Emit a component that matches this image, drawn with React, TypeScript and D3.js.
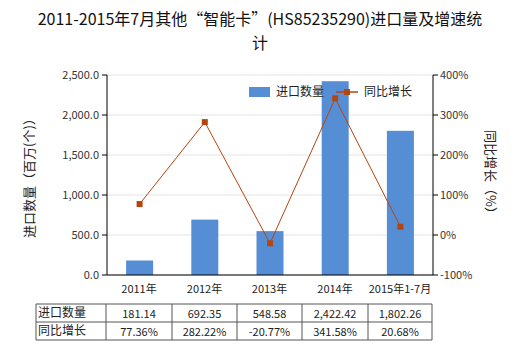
import React from "react";
import * as d3 from "d3";

const categories = ["2011年", "2012年", "2013年", "2014年", "2015年1-7月"];
const importQty = [181.14, 692.35, 548.58, 2422.42, 1802.26];
const growth = [77.36, 282.22, -20.77, 341.58, 20.68];
const qtyLabels = ["181.14", "692.35", "548.58", "2,422.42", "1,802.26"];
const growthLabels = ["77.36%", "282.22%", "-20.77%", "341.58%", "20.68%"];
const leftTicks = [0, 500, 1000, 1500, 2000, 2500];
const rightTicks = [-100, 0, 100, 200, 300, 400];

const W = 520, H = 350;
const L = 107, R = 433, T = 75, B = 275;
const BAR = "#558ED5";
const LINE = "#B5450F";
const FONT = "'Microsoft YaHei','Noto Sans CJK SC',sans-serif";

export default function App() {
  const x = d3.scaleBand<string>().domain(categories).range([L, R]);
  const yL = d3.scaleLinear().domain([0, 2500]).range([B, T]);
  const yR = d3.scaleLinear().domain([-100, 400]).range([B, T]);
  const bw = 27;
  const cx = (c: string) => (x(c) as number) + x.bandwidth() / 2;
  const line = d3.line<number>().x((_, i) => cx(categories[i])).y((d) => yR(d));
  const fmt = d3.format(",.1f");
  const colX = [36, 106, 172, 237, 302, 368, 432];
  const rowY = [304, 322, 340];
  return (
    <svg width={W} height={H} style={{ position: "absolute", left: 0, top: 0, fontFamily: FONT }}>
      <rect width={W} height={H} fill="#fff" />
      <text x={260} y={25} textAnchor="middle" fontSize={16} fill="#111">
        2011-2015年7月其他“智能卡”(HS85235290)进口量及增速统
      </text>
      <text x={260} y={49} textAnchor="middle" fontSize={16} fill="#111">计</text>
      {leftTicks.map((t) => (
        <line key={t} x1={L} x2={R} y1={yL(t)} y2={yL(t)} stroke="#e4e4e4" />
      ))}
      {importQty.map((v, i) => (
        <rect key={i} x={cx(categories[i]) - bw / 2} y={yL(v)} width={bw} height={B - yL(v)} fill={BAR} />
      ))}
      <path d={line(growth) || ""} fill="none" stroke={LINE} strokeWidth={1} />
      {growth.map((v, i) => (
        <rect key={i} x={cx(categories[i]) - 3} y={yR(v) - 3} width={6} height={6} fill={LINE} />
      ))}
      <line x1={L} x2={L} y1={T} y2={B} stroke="#000" />
      <line x1={R} x2={R} y1={T} y2={B} stroke="#000" />
      <line x1={L} x2={R} y1={B} y2={B} stroke="#000" />
      {leftTicks.map((t) => (
        <g key={t}>
          <line x1={L - 5} x2={L} y1={yL(t)} y2={yL(t)} stroke="#000" />
          <text x={L - 8} y={yL(t) + 4} textAnchor="end" fontSize={11} fill="#333">{fmt(t)}</text>
        </g>
      ))}
      {rightTicks.map((t) => (
        <g key={t}>
          <line x1={R} x2={R + 5} y1={yR(t)} y2={yR(t)} stroke="#000" />
          <text x={R + 7} y={yR(t) + 4} textAnchor="start" fontSize={11} fill="#333">{t}%</text>
        </g>
      ))}
      <text transform={`translate(34,175) rotate(-90)`} textAnchor="middle" fontSize={13} fill="#222">
        进口数量（百万(个)）
      </text>
      <text transform={`translate(486,175) rotate(90)`} textAnchor="middle" fontSize={13} fill="#222">
        同比增长（%）
      </text>
      <rect x={249} y={87} width={21} height={10} fill={BAR} />
      <text x={276} y={96} fontSize={12} fill="#222">进口数量</text>
      <line x1={336} x2={358} y1={92} y2={92} stroke={LINE} strokeWidth={1.5} />
      <rect x={344} y={89} width={6} height={6} fill={LINE} />
      <text x={364} y={96} fontSize={12} fill="#222">同比增长</text>
      {categories.map((c, i) => (
        <text key={c} x={(colX[i + 1] + colX[i + 2]) / 2} y={293} textAnchor="middle" fontSize={11} fill="#222">{c}</text>
      ))}
      {rowY.map((y) => (
        <line key={y} x1={colX[0]} x2={colX[6]} y1={y} y2={y} stroke="#555" />
      ))}
      {colX.map((cxv) => (
        <line key={cxv} x1={cxv} x2={cxv} y1={rowY[0]} y2={rowY[2]} stroke="#555" />
      ))}
      <text x={38} y={317} fontSize={12} fill="#222">进口数量</text>
      <text x={38} y={335} fontSize={12} fill="#222">同比增长</text>
      {qtyLabels.map((s, i) => (
        <text key={i} x={(colX[i + 1] + colX[i + 2]) / 2} y={318} textAnchor="middle" fontSize={11} fill="#222">{s}</text>
      ))}
      {growthLabels.map((s, i) => (
        <text key={i} x={(colX[i + 1] + colX[i + 2]) / 2} y={336} textAnchor="middle" fontSize={11} fill="#222">{s}</text>
      ))}
    </svg>
  );
}
